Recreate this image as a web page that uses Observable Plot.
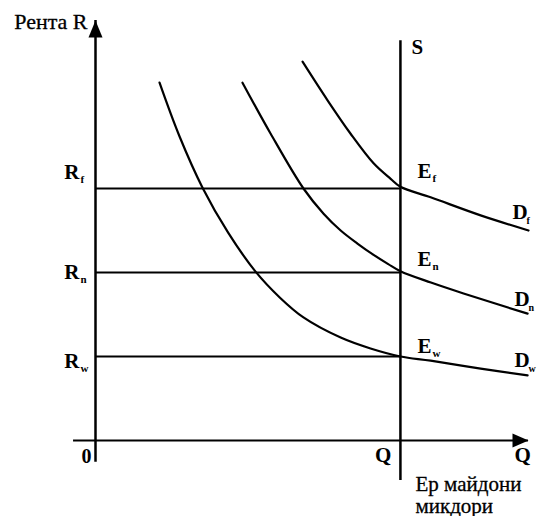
<!DOCTYPE html>
<html>
<head>
<meta charset="utf-8">
<script src="https://cdn.jsdelivr.net/npm/d3@7"></script>
<script src="https://cdn.jsdelivr.net/npm/@observablehq/plot@0.6"></script>
<style>
  body { margin: 0; background: #fff; }
</style>
</head>
<body>
<div id="chart"></div>
<script>
// ---- data ----
const Q = 100;          // equilibrium quantity (S line)
const xMax = 142;       // end of the Q axis
const yMax = 100;       // end of the R axis
const levels = [60, 40, 20];            // Rf, Rn, Rw
const levelSubs = ["f", "n", "w"];

// demand curves: [Q, R]
const curveDw = [[21.0, 85.2], [27.5, 72.5], [35.1, 60.2], [43.5, 49.5], [52.5, 40.2], [60.5, 34.0], [68.2, 29.3], [80.4, 24.5], [90.2, 21.9], [100, 20], [109.9, 19.0], [126.3, 17.1], [141.7, 15.5]];
const curveDn = [[48.2, 85.2], [57.4, 73.1], [68.2, 60.0], [74.8, 54.0], [80.4, 50.0], [85.9, 46.9], [91.2, 44.2], [96.0, 42.0], [100, 40.3], [110, 37.6], [120.7, 35.0], [141.7, 30.2]];
const curveDf = [[67.9, 90.2], [76.1, 81.0], [83.6, 73.1], [91.2, 66.0], [96.8, 62.3], [100, 60.4], [109.9, 57.9], [126.3, 53.6], [142, 50.0]];

const titleY = "Рента R";
const titleX = ["Ер майдони", "микдори"];

// ---- chart ----
const serif = "'Liberation Serif', 'Times New Roman', serif";
const arrowUp = {draw(ctx) { ctx.moveTo(0, 0); ctx.lineTo(-7, 17); ctx.lineTo(7, 17); ctx.closePath(); }};
const arrowRight = {draw(ctx) { ctx.moveTo(0, 0); ctx.lineTo(-16, -7); ctx.lineTo(-16, 7); ctx.closePath(); }};

const toObj = (arr) => arr.map(([x, y]) => ({x, y}));
const last = (arr) => ({x: arr[arr.length - 1][0], y: arr[arr.length - 1][1]});

const boldText = (data, opts) => Plot.text(data, {fontWeight: "bold", fontFamily: serif, lineAnchor: "bottom", fill: "black", ...opts});

const dEnds = [last(curveDf), last(curveDn), last(curveDw)];
const dLab = [
  {dx: -16, dy: -12}, {dx: -13, dy: -8}, {dx: -13, dy: -8}
];
const rDy = [-10, 6, 11];
const eDy = [-11, -7, -4];

const marks = [
  // axes
  Plot.ruleX([0], {y1: -5.2, y2: yMax, stroke: "black", strokeWidth: 2.5}),
  Plot.ruleY([0], {x1: -7.2, x2: xMax, stroke: "black", strokeWidth: 2.2}),
  Plot.dot([{x: 0, y: yMax}], {x: "x", y: "y", symbol: arrowUp, r: 1, fill: "black", stroke: null}),
  Plot.dot([{x: xMax, y: 0}], {x: "x", y: "y", symbol: arrowRight, r: 1, fill: "black", stroke: null}),
  // S line
  Plot.ruleX([Q], {y1: -9.5, y2: 95.2, stroke: "black", strokeWidth: 2.5}),
  // rent levels
  Plot.ruleY(levels, {x1: 0, x2: Q, stroke: "black", strokeWidth: 1.8}),
  // demand curves
  Plot.line(toObj(curveDw), {x: "x", y: "y", curve: "catmull-rom", stroke: "black", strokeWidth: 2.2}),
  Plot.line(toObj(curveDn), {x: "x", y: "y", curve: "catmull-rom", stroke: "black", strokeWidth: 2.2}),
  Plot.line(toObj(curveDf), {x: "x", y: "y", curve: "catmull-rom", stroke: "black", strokeWidth: 2.2}),
  // Y title
  Plot.text([{x: 0, y: yMax}], {x: "x", y: "y", text: () => titleY, textAnchor: "end", dx: -8, dy: 8, lineAnchor: "bottom", fontFamily: serif, fontSize: 22, fill: "black", stroke: "black", strokeWidth: 0.3}),
  // S label
  boldText([{x: Q, y: 95.2}], {x: "x", y: "y", text: () => "S", textAnchor: "start", dx: 11, dy: 13, fontSize: 21}),
];

levels.forEach((lv, i) => {
  marks.push(boldText([{x: 0, y: lv}], {x: "x", y: "y", text: () => "R", textAnchor: "end", dx: -16, dy: rDy[i], fontSize: 21}));
  marks.push(boldText([{x: 0, y: lv}], {x: "x", y: "y", text: () => levelSubs[i], textAnchor: "start", dx: -15, dy: rDy[i] + 4, fontSize: 11}));
  marks.push(boldText([{x: Q, y: lv}], {x: "x", y: "y", text: () => "E", textAnchor: "start", dx: 17, dy: eDy[i], fontSize: 21}));
  marks.push(boldText([{x: Q, y: lv}], {x: "x", y: "y", text: () => levelSubs[i], textAnchor: "start", dx: 32, dy: eDy[i] + 4, fontSize: 11}));
  marks.push(boldText([dEnds[i]], {x: "x", y: "y", text: () => "D", textAnchor: "start", dx: dLab[i].dx, dy: dLab[i].dy, fontSize: 21}));
  marks.push(boldText([dEnds[i]], {x: "x", y: "y", text: () => levelSubs[i], textAnchor: "start", dx: dLab[i].dx + 14, dy: dLab[i].dy + 5, fontSize: 10}));
});

marks.push(
  boldText([{x: 0, y: 0}], {x: "x", y: "y", text: () => "0", textAnchor: "end", dx: -4, dy: 22, fontSize: 20}),
  boldText([{x: Q, y: 0}], {x: "x", y: "y", text: () => "Q", textAnchor: "end", dx: -9, dy: 21, fontSize: 21}),
  boldText([{x: xMax, y: 0}], {x: "x", y: "y", text: () => "Q", textAnchor: "start", dx: -14, dy: 21, fontSize: 21}),
  Plot.text([{x: Q, y: 0}], {x: "x", y: "y", text: () => titleX[0], textAnchor: "start", dx: 15, dy: 50, lineAnchor: "bottom", fontFamily: serif, fontSize: 21, fill: "black", stroke: "black", strokeWidth: 0.3}),
  Plot.text([{x: Q, y: 0}], {x: "x", y: "y", text: () => titleX[1], textAnchor: "start", dx: 15, dy: 72, lineAnchor: "bottom", fontFamily: serif, fontSize: 21, fill: "black", stroke: "black", strokeWidth: 0.3})
);

const chart = Plot.plot({
  width: 537,
  height: 516,
  marginLeft: 95,
  marginRight: 9,
  marginTop: 20,
  marginBottom: 76,
  x: {domain: [0, xMax], axis: null},
  y: {domain: [0, yMax], axis: null},
  style: {background: "white", fontFamily: serif},
  marks
});
document.getElementById("chart").appendChild(chart);
</script>
</body>
</html>
